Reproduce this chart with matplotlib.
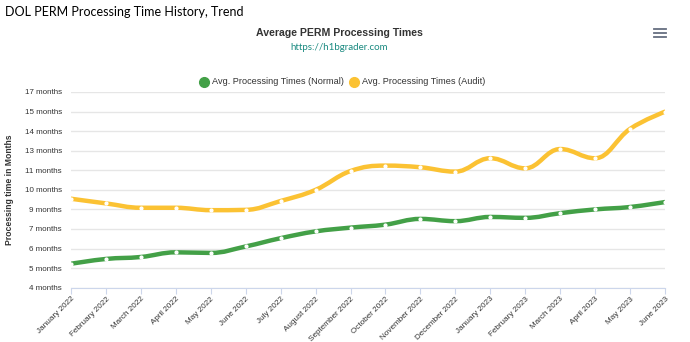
import math
import matplotlib
matplotlib.use('Agg')
import matplotlib.pyplot as plt
from matplotlib.path import Path
from matplotlib.patches import PathPatch
from matplotlib.lines import Line2D
import numpy as np

months = ['January 2022', 'February 2022', 'March 2022', 'April 2022', 'May 2022',
          'June 2022', 'July 2022', 'August 2022', 'September 2022', 'October 2022',
          'November 2022', 'December 2022', 'January 2023', 'February 2023',
          'March 2023', 'April 2023', 'May 2023', 'June 2023']
normal = [5.59, 5.91, 6.04, 6.35, 6.31, 6.74, 7.29, 7.74, 7.99, 8.19,
          8.57, 8.42, 8.70, 8.64, 8.95, 9.20, 9.36, 9.69]
audit = [9.91, 9.60, 9.31, 9.31, 9.15, 9.17, 9.76, 10.50, 11.75, 12.11,
         12.00, 11.71, 12.60, 11.93, 13.21, 12.60, 14.55, 15.69]

y_ticks = [4 + 1.3 * k for k in range(11)]

GREEN = '#43a047'
YELLOW = '#fbc233'


def spline_path(xs, ys, smoothing=1.5):
    # Highcharts-style spline through the points
    denom = smoothing + 1
    n = len(xs)
    verts = [(xs[0], ys[0])]
    codes = [Path.MOVETO]
    prev_right = (xs[0], ys[0])
    for i in range(1, n):
        px, py = xs[i], ys[i]
        if i < n - 1:
            lx, ly = xs[i - 1], ys[i - 1]
            nx, ny = xs[i + 1], ys[i + 1]
            lcx = (smoothing * px + lx) / denom
            lcy = (smoothing * py + ly) / denom
            rcx = (smoothing * px + nx) / denom
            rcy = (smoothing * py + ny) / denom
            corr = (rcy - lcy) * (rcx - px) / (rcx - lcx) + py - rcy
            lcy += corr
            rcy += corr
            if lcy > ly and lcy > py:
                lcy = max(ly, py)
                rcy = 2 * py - lcy
            elif lcy < ly and lcy < py:
                lcy = min(ly, py)
                rcy = 2 * py - lcy
            if rcy > ny and rcy > py:
                rcy = max(ny, py)
                lcy = 2 * py - rcy
            elif rcy < ny and rcy < py:
                rcy = min(ny, py)
                lcy = 2 * py - rcy
            left = (lcx, lcy)
            right = (rcx, rcy)
        else:
            left = (px, py)
            right = (px, py)
        verts += [prev_right, left, (px, py)]
        codes += [Path.CURVE4, Path.CURVE4, Path.CURVE4]
        prev_right = right
    return Path(verts, codes)


plt.rcParams['font.family'] = ['Liberation Sans', 'DejaVu Sans']

fig = plt.figure(figsize=(6.9, 3.42), dpi=100)
ax = fig.add_axes([71 / 690, 1 - 287.7 / 342, (665 - 71) / 690, (287.7 - 92) / 342])

x = np.arange(len(months))
for vals, col in [(normal, GREEN), (audit, YELLOW)]:
    ax.add_patch(PathPatch(spline_path(x, vals), facecolor='none', edgecolor=col,
                           lw=3.2, capstyle='round', joinstyle='round', zorder=3))
    ax.plot(x, vals, linestyle='none', marker='o', ms=2.0, mfc='white',
            mec='white', zorder=4)

ax.set_xlim(0, len(months) - 1)
ax.set_ylim(4, 17)
ax.set_yticks(y_ticks)
ax.set_yticklabels([f'{math.floor(v + 1e-9)} months' for v in y_ticks],
                   fontsize=5.8, color='#333333')
ax.set_xticks(x)
ax.set_xticklabels(months, rotation=45, ha='right', rotation_mode='anchor',
                   fontsize=5.9, color='#333333')
ax.tick_params(axis='y', length=0, pad=6.5)
ax.tick_params(axis='x', length=4, color='#ccd6eb', pad=1.5)
ax.grid(axis='y', color='#e6e6e6', lw=1)
ax.set_axisbelow(True)
for s in ['top', 'right', 'left']:
    ax.spines[s].set_visible(False)
ax.spines['bottom'].set_color('#ccd6eb')
ax.set_ylabel('Processing time in Months', fontsize=6.2, fontweight='bold',
              color='#333333')
ax.yaxis.set_label_coords((14 - 71) / 594, 0.5)

fig.text(5 / 690, 1 - 12 / 342, 'DOL PERM Processing Time History, Trend',
         fontsize=9.0, va='center', ha='left', color='#000000',
         family=['Lato', 'DejaVu Sans'])
fig.text(339 / 690, 1 - 33 / 342, 'Average PERM Processing Times',
         fontsize=7.6, fontweight='bold', va='center', ha='center', color='#333333')
fig.text(339 / 690, 1 - 48 / 342, 'https://h1bgrader.com',
         fontsize=7.0, va='center', ha='center', color='#1a8a80',
         family=['Lato', 'DejaVu Sans'])

# legend
fig.add_artist(Line2D([204 / 690], [1 - 82 / 342], marker='o', ms=7,
                      color=GREEN, linestyle='none'))
fig.text(212 / 690, 1 - 82 / 342, 'Avg. Processing Times (Normal)',
         fontsize=6.6, va='center', ha='left', color='#333333')
fig.add_artist(Line2D([354 / 690], [1 - 82 / 342], marker='o', ms=7,
                      color=YELLOW, linestyle='none'))
fig.text(362 / 690, 1 - 82 / 342, 'Avg. Processing Times (Audit)',
         fontsize=6.6, va='center', ha='left', color='#333333')

# menu icon
for dy in [29, 33, 37]:
    fig.add_artist(Line2D([654 / 690, 666 / 690], [1 - dy / 342] * 2,
                          color='#666e80', lw=1.3))

fig.savefig('out.png', dpi=100)
